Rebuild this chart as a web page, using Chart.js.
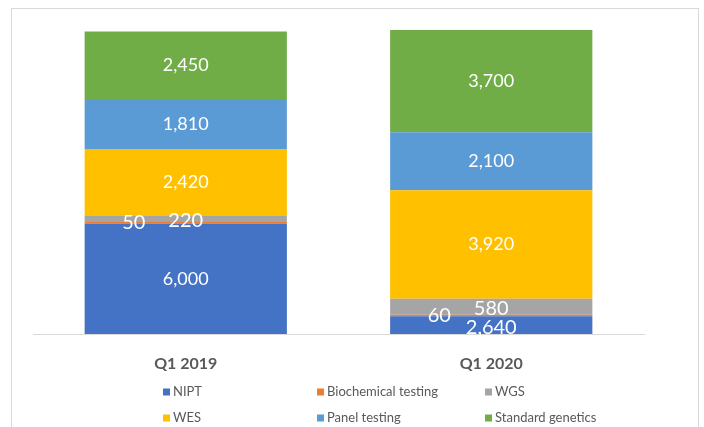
<!DOCTYPE html>
<html>
<head>
<meta charset="utf-8">
<script src="https://cdn.jsdelivr.net/npm/chart.js@4.4.1/dist/chart.umd.min.js"></script>
<style>
  html, body { margin: 0; padding: 0; background: #fff; overflow: hidden; }
  #frame { position: absolute; left: 11px; top: 8px; width: 686px; height: 440px; border: 1px solid #d9d9d9; }
  #wrap { position: absolute; left: 0; top: 0; width: 704px; height: 427px; }
</style>
</head>
<body>
<div id="frame"></div>
<div id="wrap"><canvas id="chart" width="704" height="427"></canvas></div>
<script>
const categories = ['Q1 2019', 'Q1 2020'];
const seriesNames = ['NIPT', 'Biochemical testing', 'WGS', 'WES', 'Panel testing', 'Standard genetics'];
const nipt = [6000, 2640];
const biochemical = [50, 60];
const wgs = [220, 580];
const wes = [2420, 3920];
const panel = [1810, 2100];
const standard = [2450, 3700];
const colors = ['#4472C4', '#ED7D31', '#A5A5A5', '#FFC000', '#5B9BD5', '#70AD47'];

const seriesValues = [nipt, biochemical, wgs, wes, panel, standard];

// white value labels in the middle of the visible part of each segment
const segmentLabels = {
  id: 'segmentLabels',
  afterDatasetsDraw(chart) {
    const ctx = chart.ctx;
    const area = chart.chartArea;
    ctx.save();
    ctx.fillStyle = '#ffffff';
    ctx.textAlign = 'center';
    ctx.textBaseline = 'middle';
    chart.data.datasets.forEach((ds, i) => {
      const meta = chart.getDatasetMeta(i);
      meta.data.forEach((bar, j) => {
        const top = Math.max(bar.y, area.top);
        const bottom = Math.min(bar.base, area.bottom);
        const h = bottom - top;
        let x = bar.x;
        let y = (top + bottom) / 2;
        if (i === 1) x -= 52;
        if (i === 2) y += 2;
        if (i === 0 && h < 30) y += 2;
        ctx.font = (h < 30 ? '20px' : '18px') + ' Lato, Carlito, sans-serif';
        ctx.fillText(ds.data[j].toLocaleString('en-US'), x, y);
      });
    });
    ctx.restore();
  }
};

// legend laid out in fixed columns like the office chart
const gridLegend = {
  id: 'gridLegend',
  afterDraw(chart) {
    const ctx = chart.ctx;
    const cols = [163, 317, 485];
    const rows = [392, 418];
    ctx.save();
    ctx.font = '13px Lato, Carlito, sans-serif';
    ctx.textBaseline = 'middle';
    ctx.textAlign = 'left';
    chart.data.datasets.forEach((ds, i) => {
      const x = cols[i % 3];
      const y = rows[Math.floor(i / 3)];
      ctx.fillStyle = ds.backgroundColor;
      ctx.fillRect(x, y - 3.5, 7, 7);
      ctx.fillStyle = '#595959';
      ctx.fillText(ds.label, x + 10, y);
    });
    ctx.restore();
  }
};

new Chart(document.getElementById('chart'), {
  type: 'bar',
  data: {
    labels: categories,
    datasets: seriesNames.map((name, i) => ({
      label: name,
      data: seriesValues[i],
      backgroundColor: colors[i],
      borderWidth: 0,
      categoryPercentage: 1,
      barPercentage: 0.662
    }))
  },
  options: {
    responsive: false,
    animation: false,
    layout: { padding: { left: 33, right: 60, top: 30, bottom: 0 } },
    plugins: {
      legend: { display: false },
      tooltip: { enabled: false }
    },
    scales: {
      x: {
        stacked: true,
        grid: { display: false, drawTicks: false },
        border: { display: true, color: '#d9d9d9', width: 1 },
        ticks: {
          color: '#595959',
          padding: 20,
          font: { family: 'Lato, Carlito, sans-serif', size: 16, weight: 'bold' }
        },
        afterFit(scale) { scale.height = 93; }
      },
      y: {
        stacked: true,
        display: false,
        min: 2000,
        max: 13000
      }
    }
  },
  plugins: [segmentLabels, gridLegend]
});
</script>
</body>
</html>
